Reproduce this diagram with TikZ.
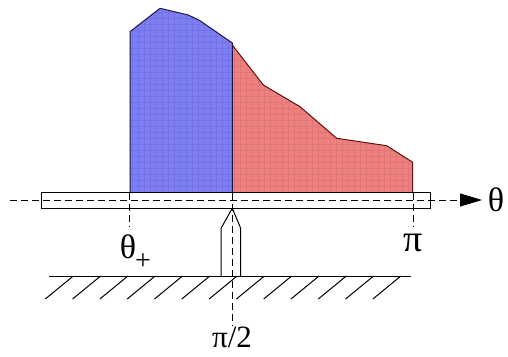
\documentclass[tikz,border=0pt]{standalone}
\usepackage{fontspec}
\setmainfont{Liberation Serif}
\usetikzlibrary{arrows.meta}
\definecolor{blueF}{RGB}{125,125,245}
\definecolor{redF}{RGB}{240,128,128}
\definecolor{blueL}{RGB}{25,25,80}
\definecolor{redL}{RGB}{100,15,15}
\begin{document}
\begin{tikzpicture}[x=1pt,y=-1pt,
  lbl/.style={inner sep=0pt},
  dsh/.style={line width=1pt, dash pattern=on 7pt off 4pt},
  edge/.style={line width=1pt, black},
  hatch/.style={line width=1pt, black}]
\useasboundingbox (0,0) rectangle (508,356);
% coloured areas
\fill[blueF] (130,192.7) -- (130,31.7) -- (160,8.3) -- (188.3,15) -- (200,20.7) -- (232.3,43) -- (232.3,192.7) -- cycle;
\fill[redF] (232.3,192.7) -- (232.3,45) -- (263.3,85) -- (300,106.7) -- (336.7,138.3) -- (386.7,145.7) -- (412.7,162.3) -- (412.7,192.7) -- cycle;
\begin{scope}
\clip (130,192.7) -- (130,31.7) -- (160,8.3) -- (188.3,15) -- (200,20.7) -- (232.3,43) -- (232.3,192.7) -- cycle;
\draw[blueF!92!black, line width=1pt, step=6pt] (128,0) grid (234,194);
\end{scope}
\begin{scope}
\clip (232.3,192.7) -- (232.3,45) -- (263.3,85) -- (300,106.7) -- (336.7,138.3) -- (386.7,145.7) -- (412.7,162.3) -- (412.7,192.7) -- cycle;
\draw[redF!93!black, line width=1pt, step=6pt] (232,0) grid (414,194);
\end{scope}
\draw[line width=1pt, blueL] (130,192.7) -- (130,31.7) -- (160,8.3) -- (188.3,15) -- (200,20.7) -- (232.3,43) -- (232.3,192.7);
\draw[line width=1pt, redL] (232.3,45) -- (263.3,85) -- (300,106.7) -- (336.7,138.3) -- (386.7,145.7) -- (412.7,162.3) -- (412.7,192.7);
% bar
\draw[edge, fill=white] (41.7,192.7) rectangle (430,208.3);
% axis
\coordinate (axs) at (10,200);
\coordinate (axe) at (482,200);
\coordinate (axm) at (461,200);
\draw[dsh] (axs) -- (axm);
\draw[-{Triangle[length=22pt,width=13pt]}, line width=0.9pt] (axm) -- (axe);
\node[lbl, font=\fontsize{34}{36}\selectfont] (th) at (496,200) {θ};
% pivot
\draw[edge, fill=white] (221,276) -- (221,228.3) -- (232.3,208.3) -- (240.7,228.3) -- (240.7,276);
% ground
\coordinate (gl) at (49.3,276);
\coordinate (gr) at (410.7,276);
\draw[edge] (gl) -- (gr);
\foreach \i in {0,...,12} {
  \draw[hatch] (73.3+27.3*\i,276) -- ++(-28,23);
}
% vertical dashed lines
\coordinate (vtp) at (129.5,192.7);
\coordinate (vtpb) at (129.5,226.7);
\coordinate (vpi) at (413,192.7);
\coordinate (vpib) at (413,226.7);
\coordinate (vh) at (232.3,192.7);
\coordinate (vhb) at (232.3,325);
\draw[dsh] (vtp) -- (vtpb);
\draw[dsh] (vpi) -- (vpib);
\draw[dsh] (vh) -- (vhb);
% labels
\node[lbl, font=\fontsize{34}{36}\selectfont] (thp) at (128,247) {θ};
\node[lbl, font=\fontsize{28}{30}\selectfont] (plus) at (143,262) {+};
\node[lbl, font=\fontsize{38}{40}\selectfont, anchor=base] (pi) at (413,251) {π};
\node[lbl, font=\fontsize{31}{33}\selectfont, anchor=base] (pih) at (232,347) {π/2};
\end{tikzpicture}
\end{document}
